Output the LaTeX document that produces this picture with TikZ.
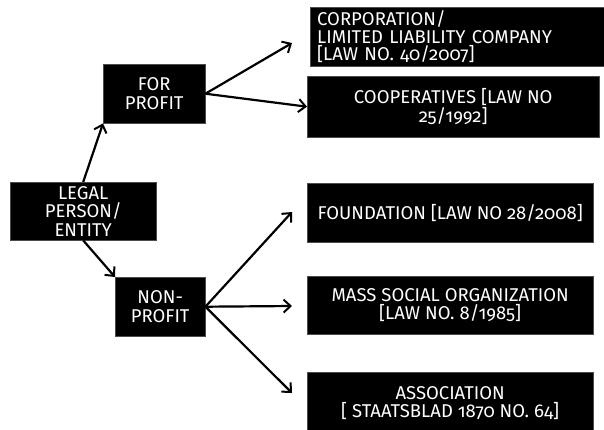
\documentclass[tikz,border=0pt]{standalone}
\usepackage{fontspec}
\setmainfont{Fira Sans}[Numbers=OldStyle]
\usetikzlibrary{arrows.meta}
\begin{document}
\begin{tikzpicture}[x=1pt,y=-1pt,
  box/.style={fill=black,draw=black!70,line width=0.4pt,text=white,inner sep=0pt,
    font=\fontsize{18.5}{18.5}\selectfont,align=center,anchor=north west},
  conn/.style={line width=2.2pt,-{Straight Barb[length=7pt,width=13pt,line width=2pt]}}]
\useasboundingbox (0,0) rectangle (604,429);
\fill[white] (0,0) rectangle (604,429);
% boxes
\node[box,minimum width=146pt,minimum height=58pt] (legal) at (10,182) {LEGAL\\PERSON/\\ENTITY};
\node[box,minimum width=102pt,minimum height=59pt] (forp) at (103,64) {FOR\\PROFIT};
\node[box,minimum width=90pt,minimum height=59pt] (nonp) at (115,277) {NON-\\PROFIT};
\node[box,minimum width=300pt,minimum height=59pt,align=left,text width=288pt,inner xsep=7pt,font=\fontsize{18.5}{17.5}\selectfont] (corp) at (310,7) {CORPORATION/\\LIMITED LIABILITY COMPANY\\{[}LAW NO. 40/2007{]}};
\node[box,minimum width=292pt,minimum height=61pt] (coop) at (307,76) {COOPERATIVES {[}LAW NO\\25/1992{]}};
\node[box,minimum width=286pt,minimum height=59pt] (found) at (307,183) {FOUNDATION {[}LAW NO 28/2008{]}};
\node[box,minimum width=286pt,minimum height=58pt] (mass) at (307,276) {MASS SOCIAL ORGANIZATION\\{[}LAW NO. 8/1985{]}};
\node[box,minimum width=286pt,minimum height=62pt] (assoc) at (307,372) {ASSOCIATION\\{[} STAATSBLAD 1870 NO. 64{]}};
% free arrow ends
\coordinate (t1) at (292,43);
\coordinate (t2) at (292,212);
\coordinate (t3) at (292,306);
\coordinate (t4) at (292,393);
% connectors
\draw[conn] (legal.north) -- (forp.south west);
\draw[conn] (legal.south) -- (nonp.north west);
\draw[conn] (forp.east) -- (t1);
\draw[conn] (forp.east) -- (coop.west);
\draw[conn] (nonp.east) -- (t2);
\draw[conn] (nonp.east) -- (t3);
\draw[conn] (nonp.east) -- (t4);
\end{tikzpicture}
\end{document}
